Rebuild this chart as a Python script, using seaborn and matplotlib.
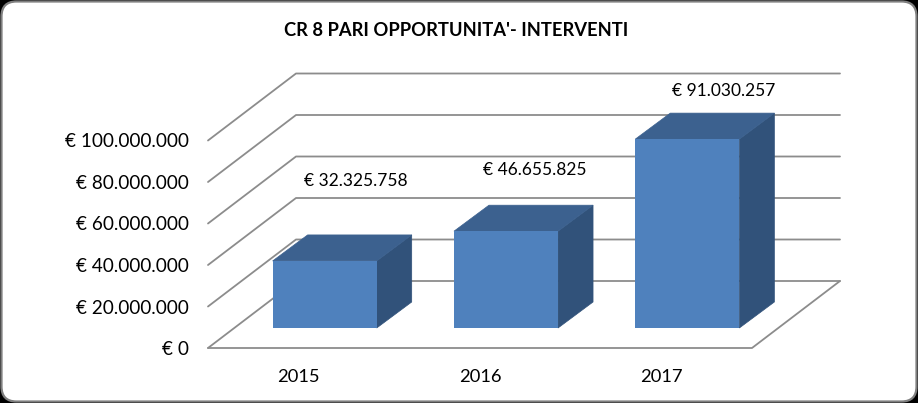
import matplotlib
matplotlib.use("Agg")
import matplotlib.pyplot as plt
from matplotlib.patches import FancyBboxPatch, Polygon
from matplotlib.ticker import FuncFormatter
import pandas as pd
import seaborn as sns

# values
years = ["2015", "2016", "2017"]
interventi = [32325758, 46655825, 91030257]
bar_labels = ["€ 32.325.758", "€ 46.655.825", "€ 91.030.257"]
y_ticks = [0, 20000000, 40000000, 60000000, 80000000, 100000000]
title = "CR 8 PARI OPPORTUNITA'- INTERVENTI"

W, H = 918, 403
FRONT, FLOOR, TOP = 208, 348, 140.5
FACE, SIDE, ROOF = "#4f81bd", "#31527a", "#3c618f"
GRID = "#8c8c8c"
# label centres in pixels, hand placed like in the original
LABEL_XY = [(355.5, 181), (535, 170), (724, 91)]

sns.set_theme(style="white")
plt.rcParams["font.family"] = ["Lato", "DejaVu Sans"]

fig = plt.figure(figsize=(W / 100, H / 100), dpi=100, facecolor="black")
fig.add_artist(FancyBboxPatch((1.5, 1.5), W - 3, H - 3, boxstyle="round,pad=0,rounding_size=15",
                              transform=None, facecolor="white", edgecolor="#7f7f7f", linewidth=1.6))

ax = fig.add_axes([FRONT / W, 1 - FLOOR / H, 544 / W, (FLOOR - TOP) / H])
ax.patch.set_alpha(0)
df = pd.DataFrame({"year": years, "value": interventi})
sns.barplot(data=df, x="year", y="value", color=FACE, saturation=1, width=0.574, ax=ax, zorder=3, linewidth=0)
ax.set_xlim(-0.5, 2.5)
ax.set_ylim(0, 100000000)
ax.set_xlabel("")
ax.set_ylabel("")
sns.despine(ax=ax, left=True, bottom=True, top=True, right=True)

ax.set_yticks(y_ticks)
ax.yaxis.set_major_formatter(FuncFormatter(
    lambda v, _: "€ " + f"{int(v):,}".replace(",", ".")))
ax.tick_params(axis="y", length=0, pad=14, labelsize=13.6, labelcolor="black")
ax.tick_params(axis="x", length=0, pad=15, labelsize=13.2, labelcolor="black")


def shifted(dx, dy, v=0):
    # pixel offset from the front plane -> display point
    x0, y0 = ax.transData.transform((-0.5, v))
    return (x0 + dx, y0 + dy)


# side wall, back wall and floor
for v in y_ticks:
    a, b = shifted(0, 0, v), shifted(88, 67, v)
    c = (b[0] + 544, b[1])
    fig.add_artist(plt.Line2D([a[0], b[0], c[0]], [a[1], b[1], c[1]], transform=None,
                              color=GRID, linewidth=1.3, zorder=1))
a = shifted(0, 0)
fig.add_artist(plt.Line2D([a[0], a[0] + 544, a[0] + 632], [a[1], a[1], a[1] + 67], transform=None,
                          color=GRID, linewidth=1.3, zorder=1))

# bars sit part way into the depth of the plot, so move them and add the 3D faces
BAR_DX, BAR_DY = 26, 20
DEPTH_DX, DEPTH_DY = 35, 26
to_data = ax.transData.inverted()
ax.set_zorder(2)
for patch, label, (lx, ly) in zip(ax.patches, bar_labels, LABEL_XY):
    l0, b0 = ax.transData.transform((patch.get_x(), 0))
    r0, t0 = ax.transData.transform((patch.get_x() + patch.get_width(), patch.get_height()))
    l, r, b, t = l0 + BAR_DX, r0 + BAR_DX, b0 + BAR_DY, t0 + BAR_DY
    x_new, y_new = to_data.transform((l, b))
    patch.set_x(x_new)
    patch.set_y(y_new)
    patch.set_clip_on(False)
    patch.set_zorder(3.5)
    d = (DEPTH_DX, DEPTH_DY)
    ax.add_patch(Polygon([(r, b), (r + d[0], b + d[1]), (r + d[0], t + d[1]), (r, t)],
                         transform=None, facecolor=SIDE, edgecolor=SIDE, linewidth=0.5, zorder=3, clip_on=False))
    ax.add_patch(Polygon([(l, t), (r, t), (r + d[0], t + d[1]), (l + d[0], t + d[1])],
                         transform=None, facecolor=ROOF, edgecolor=ROOF, linewidth=0.5, zorder=3, clip_on=False))
    ax.text(lx, H - ly, label, transform=None, ha="center", va="center", clip_on=False,
            fontsize=12.5, color="black", bbox=dict(facecolor="white", edgecolor="none", pad=3), zorder=4)

fig.text(456.5 / W, 1 - 31 / H, title, ha="center", va="center", fontsize=13.2, fontweight="bold", color="black")

fig.savefig("out.png", dpi=100, facecolor="black")
